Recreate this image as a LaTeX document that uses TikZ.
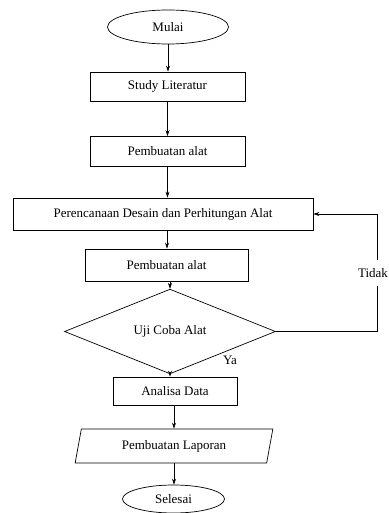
\documentclass[tikz,border=0pt]{standalone}
\usepackage{fontspec}
\setmainfont{Liberation Serif}
\usetikzlibrary{shapes.geometric,arrows.meta}

\begin{document}
\begin{tikzpicture}[x=1pt,y=-1pt,
	every node/.style={font=\rmfamily\fontsize{13}{15}\selectfont, inner sep=0pt},
	terminal/.style={draw, ellipse, line width=0.7pt},
	process/.style={draw, rectangle, line width=0.7pt},
	decision/.style={draw, diamond, line width=0.7pt},
	report/.style={draw, trapezium, trapezium left angle=73.6, trapezium right angle=106.4,
		trapezium stretches=true, line width=0.7pt},
	flow/.style={-{Stealth[length=6pt,width=4pt]}, line width=0.6pt}]
	
	% ---- Page size ----
	\useasboundingbox (0,0) rectangle (388,513);
	
	% ---- Start / end ----
	\node[terminal, minimum width=121pt, minimum height=34pt] (mulai) at (168,27) {Mulai};
	\node[terminal, minimum width=102pt, minimum height=28pt] (selesai) at (173.5,499) {Selesai};
	
	% ---- Process boxes ----
	\foreach \name/\x/\y/\w/\h/\txt in {
		study/167.5/86.5/155/29/Study Literatur,
		buatA/167.5/151.5/155/30/Pembuatan alat,
		rencana/163/214/300/32/Perencanaan Desain dan Perhitungan Alat,
		buatB/166.5/265/163/32/Pembuatan alat,
		analisa/175/391/124/28/Analisa Data
	}
	{
		\node[process, minimum width=\w pt, minimum height=\h pt] (\name) at (\x,\y) {\txt};
	}
	
	% ---- Decision and report ----
	\node[decision, minimum width=211pt, minimum height=53pt] (uji) at (170,331.5) {Uji Coba Alat};
	\node[report, minimum width=198pt, minimum height=34pt] (laporan) at (174,446) {Pembuatan Laporan};
	
	% ---- Main flow (straight down from each node) ----
	\foreach \a/\b in {mulai/study, study/buatA, buatA/rencana, uji/analisa, laporan/selesai}
	\draw[flow] (\a.south) -- (\a.south |- \b.north);
	\foreach \a/\b/\x in {rencana/buatB/167, buatB/uji/170, analisa/laporan/174}
	\draw[flow] (\a.south -| \x,0) -- (\b.north -| \x,0);
	
	% ---- Loop back ----
	\draw[flow] (uji.east) -| ([xshift=64pt]rencana.east) -- (rencana.east);
	\node[fill=white, inner xsep=1pt, inner ysep=8pt] (tidak) at (373,273) {Tidak};
	\node (ya) at (230,360) {Ya};
	
\end{tikzpicture}
\end{document}
